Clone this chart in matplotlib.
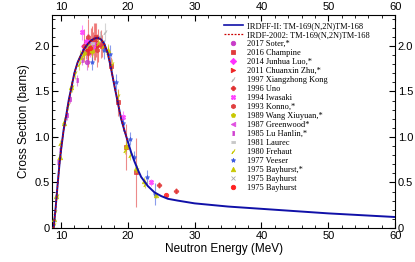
import numpy as np
import matplotlib
matplotlib.use("Agg")
import matplotlib.pyplot as plt
from matplotlib.lines import Line2D
from matplotlib.ticker import MultipleLocator

plt.rcParams['font.family'] = ['Liberation Sans', 'DejaVu Sans']

# evaluated curves
irdff_e = [8.9, 9.2, 9.5, 9.8, 10.0, 10.4, 10.7, 11.2, 11.5, 12.0, 12.5, 13.0, 13.5, 14.0,
           14.5, 15.0, 15.5, 16.0, 16.5, 17.0, 17.5, 18.0, 18.5, 19.0, 19.5, 20.0, 20.5,
           21.0, 21.5, 22.0, 23.0, 24.0, 25.0, 26.0, 27.5, 30.0, 35.0, 40.0, 45.0, 50.0,
           55.0, 60.0]
irdff_y = [0.0, 0.22, 0.48, 0.72, 0.85, 1.08, 1.2, 1.42, 1.52, 1.7, 1.82, 1.9, 1.97, 2.02,
           2.06, 2.08, 2.09, 2.07, 2.02, 1.92, 1.75, 1.56, 1.38, 1.2, 1.07, 0.95, 0.83,
           0.73, 0.64, 0.56, 0.46, 0.39, 0.35, 0.32, 0.3, 0.27, 0.235, 0.21, 0.185, 0.16,
           0.14, 0.12]
irdf_e = [8.9, 9.2, 9.5, 9.8, 10.0, 10.4, 10.7, 11.2, 11.5, 12.0, 12.5, 13.0, 13.5, 14.0,
          14.5, 15.0, 15.5, 16.0, 16.5, 17.0, 17.5, 18.0, 18.5, 19.0, 19.5, 20.0]
irdf_y = [0.0, 0.21, 0.47, 0.71, 0.85, 1.07, 1.2, 1.41, 1.52, 1.7, 1.82, 1.9, 1.97, 2.02,
          2.06, 2.08, 2.09, 2.07, 2.02, 1.92, 1.75, 1.56, 1.38, 1.2, 1.07, 0.95]

# experimental sets: energy, cross section, uncertainty
soter_e = [13.5, 13.9, 14.8]; soter_y = [1.95, 1.82, 2.0]; soter_d = [0.08, 0.09, 0.1]
champ_e = [13.8, 14.5, 15.2, 16.2, 17.5, 18.6, 19.8, 21.3]
champ_y = [1.98, 2.05, 2.1, 2.0, 1.78, 1.38, 0.89, 0.61]
champ_d = [0.12, 0.15, 0.15, 0.12, 0.1, 0.15, 0.25, 0.38]
luo_e = [13.5, 13.9, 14.4, 14.8]; luo_y = [2.0, 2.05, 1.96, 2.02]; luo_d = [0.08, 0.08, 0.08, 0.08]
zhu_e = [14.1, 14.6, 15.1, 15.6]; zhu_y = [1.95, 2.02, 2.05, 2.0]; zhu_d = [0.18, 0.2, 0.2, 0.18]
kong_e = [13.6, 14.2, 14.8, 16.6]; kong_y = [1.98, 2.05, 2.03, 2.15]; kong_d = [0.08, 0.08, 0.08, 0.1]
uno_e = [14.0, 14.8, 15.3, 24.7, 27.2]; uno_y = [1.92, 2.05, 2.0, 0.47, 0.41]
uno_d = [0.1, 0.1, 0.12, 0.03, 0.03]
iwa_e = [13.2, 14.0, 14.8, 19.3, 23.5]; iwa_y = [2.15, 2.05, 2.0, 1.22, 0.5]
iwa_d = [0.08, 0.08, 0.08, 0.06, 0.04]
konno_e = [13.4, 14.1, 14.9, 15.4, 16.0]; konno_y = [2.0, 2.1, 2.05, 1.95, 2.02]
konno_d = [0.18, 0.2, 0.2, 0.18, 0.15]
wang_e = [13.5, 14.2, 14.7]; wang_y = [1.92, 2.0, 1.94]; wang_d = [0.06, 0.06, 0.06]
green_e = [14.5, 14.8]; green_y = [1.97, 2.02]; green_d = [0.06, 0.06]
lu_e = [9.6, 9.8, 10.9, 11.4, 12.4, 13.2]; lu_y = [0.72, 0.86, 1.24, 1.42, 1.62, 1.85]
lu_d = [0.04, 0.04, 0.05, 0.05, 0.06, 0.06]
laurec_e = [14.6]; laurec_y = [2.03]; laurec_d = [0.06]
freh_e = [9.0, 9.15, 9.35, 9.7, 9.9, 10.5, 11.0, 11.6, 12.1, 12.7, 13.3, 14.0, 14.7, 15.5,
          16.3, 17.0, 17.7, 18.5, 19.6, 20.3, 21.4, 22.5]
freh_y = [0.03, 0.18, 0.35, 0.78, 0.93, 1.17, 1.35, 1.55, 1.7, 1.8, 1.9, 2.0, 1.99, 2.03,
          2.0, 1.93, 1.8, 1.45, 0.86, 0.8, 0.64, 0.48]
freh_d = [0.02, 0.03, 0.03, 0.04, 0.04, 0.05, 0.05, 0.06, 0.06, 0.06, 0.06, 0.07, 0.07, 0.07,
          0.07, 0.07, 0.06, 0.06, 0.05, 0.05, 0.05, 0.04]
veeser_e = [14.7, 16.5, 17.4, 18.2, 19.3, 20.3, 21.0, 22.8, 24.0]
veeser_y = [1.82, 1.96, 1.91, 1.6, 1.15, 0.98, 0.78, 0.56, 0.37]
veeser_d = [0.08, 0.1, 0.1, 0.09, 0.08, 0.07, 0.06, 0.08, 0.12]
bay1_e = [9.0, 9.3, 9.8, 10.4, 11.5, 12.9, 14.7, 17.0, 19.8, 21.3, 22.4, 24.2]
bay1_y = [0.1, 0.35, 0.78, 1.15, 1.55, 1.88, 1.95, 1.95, 0.9, 0.66, 0.52, 0.36]
bay1_d = [0.03, 0.03, 0.04, 0.05, 0.06, 0.07, 0.07, 0.07, 0.05, 0.04, 0.04, 0.03]
bay2_e = [14.1, 15.9]; bay2_y = [2.0, 2.1]; bay2_d = [0.06, 0.06]
bay3_e = [14.3, 25.7]; bay3_y = [1.98, 0.36]; bay3_d = [0.06, 0.02]

tall = [(-0.4, -1), (0.4, -1), (0.4, 1), (-0.4, 1)]
wide = [(-1, -0.4), (1, -0.4), (1, 0.4), (-1, 0.4)]
slant = [(0.7, 1), (0.25, 0.0), (-0.7, -1), (-0.25, 0.0)]

sets = [
    ("2017 Soter,*", soter_e, soter_y, soter_d, 'o', '#c83cc8'),
    ("2016 Champine", champ_e, champ_y, champ_d, 's', '#e03c3c'),
    ("2014 Junhua Luo,*", luo_e, luo_y, luo_d, 'D', '#ff30ff'),
    ("2011 Chuanxin Zhu,*", zhu_e, zhu_y, zhu_d, '>', '#ee2222'),
    ("1997 Xiangzhong Kong", kong_e, kong_y, kong_d, slant, '#b8b8b8'),
    ("1996 Uno", uno_e, uno_y, uno_d, 'P', '#e03030'),
    ("1994 Iwasaki", iwa_e, iwa_y, iwa_d, 'X', '#ff40ff'),
    ("1993 Konno,*", konno_e, konno_y, konno_d, 'h', '#e04040'),
    ("1989 Wang Xiuyuan,*", wang_e, wang_y, wang_d, 'p', '#c8c800'),
    ("1987 Greenwood*", green_e, green_y, green_d, '<', '#e050e0'),
    ("1985 Lu Hanlin,*", lu_e, lu_y, lu_d, tall, '#d040d0'),
    ("1981 Laurec", laurec_e, laurec_y, laurec_d, wide, '#c8c8c8'),
    ("1980 Frehaut", freh_e, freh_y, freh_d, slant, '#c8c800'),
    ("1977 Veeser", veeser_e, veeser_y, veeser_d, '*', '#3c5ae0'),
    ("1975 Bayhurst,*", bay1_e, bay1_y, bay1_d, '^', '#c8c800'),
    ("1975 Bayhurst", bay2_e, bay2_y, bay2_d, 'x', '#a8a8a8'),
    ("1975 Bayhurst", bay3_e, bay3_y, bay3_d, 'o', '#ff2020'),
]

fig = plt.figure(figsize=(4.15, 2.62), dpi=100)
ax = fig.add_axes([0.126, 0.13, 0.826, 0.813])

handles = []
for lab, e, y, d, m, c in sets:
    ax.errorbar(e, y, yerr=d, fmt='none', ecolor=c, elinewidth=0.8, alpha=0.6, zorder=2)
    ax.plot(e, y, ls='none', marker=m, ms=3.2, mfc=c, mec=c, mew=0.6, alpha=0.85, zorder=3)
    handles.append(Line2D([], [], ls='none', marker=m, ms=3.2, mfc=c, mec=c, mew=0.6, label=lab))

ax.plot(irdff_e, irdff_y, color='#1010a8', lw=1.4, zorder=4)
ax.plot(irdf_e, irdf_y, color='#cc0000', lw=0.9, ls=(0, (1.5, 1.2)), zorder=5)

lines = [Line2D([], [], color='#1010a8', lw=1.2, label="IRDFF-II: TM-169(N,2N)TM-168"),
         Line2D([], [], color='#cc0000', lw=0.9, ls=(0, (1.5, 1.2)), label="IRDF-2002: TM-169(N,2N)TM-168")]

ax.legend(handles=lines + handles, loc='upper right', bbox_to_anchor=(0.94, 0.99),
          frameon=False, prop={'family': 'Liberation Serif', 'size': 6},
          labelspacing=0.12, handlelength=2.2, handletextpad=0.5, borderaxespad=0.2)

ax.set_xlim(8.7, 60)
ax.set_ylim(0, 2.34)
ax.xaxis.set_major_locator(MultipleLocator(10))
ax.xaxis.set_minor_locator(MultipleLocator(2))
ax.yaxis.set_major_locator(MultipleLocator(0.5))
ax.yaxis.set_minor_locator(MultipleLocator(0.1))
ax.set_yticks([0, 0.5, 1.0, 1.5, 2.0], ['0', '0.5', '1.0', '1.5', '2.0'])
ax.tick_params(which='both', direction='in', top=True, right=True,
               labeltop=True, labelright=True, labelsize=8, pad=2)
ax.tick_params(which='major', length=4, width=0.8)
ax.tick_params(which='minor', length=2, width=0.6)
ax.set_xlabel("Neutron Energy (MeV)", fontsize=8.5, labelpad=2)
ax.set_ylabel("Cross Section (barns)", fontsize=8.5, labelpad=3)

fig.savefig("out.png", dpi=100)
